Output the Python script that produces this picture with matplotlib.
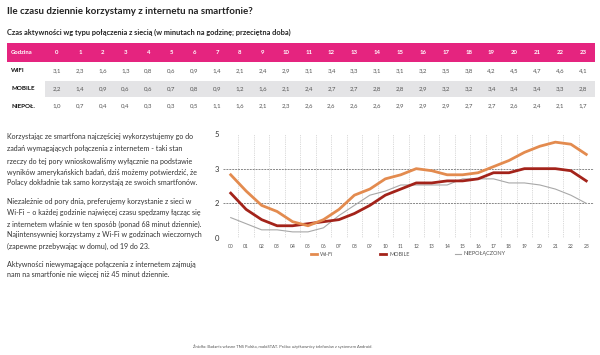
import matplotlib
matplotlib.use("Agg")
import matplotlib.pyplot as plt
from matplotlib.patches import Rectangle
from matplotlib.lines import Line2D

plt.rcParams['font.family'] = ['Lato', 'DejaVu Sans']

hours = list(range(24))
hour_labels = [f"{h:02d}" for h in hours]
wifi = [3.1, 2.3, 1.6, 1.3, 0.8, 0.6, 0.9, 1.4, 2.1, 2.4, 2.9, 3.1, 3.4, 3.3, 3.1, 3.1, 3.2, 3.5, 3.8, 4.2, 4.5, 4.7, 4.6, 4.1]
mobile = [2.2, 1.4, 0.9, 0.6, 0.6, 0.7, 0.8, 0.9, 1.2, 1.6, 2.1, 2.4, 2.7, 2.7, 2.8, 2.8, 2.9, 3.2, 3.2, 3.4, 3.4, 3.4, 3.3, 2.8]
niepol = [1.0, 0.7, 0.4, 0.4, 0.3, 0.3, 0.5, 1.1, 1.6, 2.1, 2.3, 2.6, 2.6, 2.6, 2.6, 2.9, 2.9, 2.9, 2.7, 2.7, 2.6, 2.4, 2.1, 1.7]
row_labels = ["WIFI", "MOBILE", "NIEPOŁ."]
legend_labels = ["Wi-Fi", "MOBILE", "NIEPOŁĄCZONY"]
y_ticks = [0, 1.7, 3.4, 5.1]
y_tick_labels = ["0", "2", "3", "5"]

title = "Ile czasu dziennie korzystamy z internetu na smartfonie?"
subtitle = "Czas aktywności wg typu połączenia z siecią (w minutach na godzinę; przeciętna doba)"
paragraphs = [
    ["Korzystając ze smartfona najczęściej wykorzystujemy go do",
     "zadań wymagających połączenia z internetem - taki stan",
     "rzeczy do tej pory wnioskowaliśmy wyłącznie na podstawie",
     "wyników amerykańskich badań, dziś możemy potwierdzić, że",
     "Polacy dokładnie tak samo korzystają ze swoich smartfonów."],
    ["Niezależnie od pory dnia, preferujemy korzystanie z sieci w",
     "Wi-Fi – o każdej godzinie najwięcej czasu spędzamy łącząc się",
     "z internetem właśnie w ten sposób (ponad 68 minut dziennie).",
     "Najintensywniej korzystamy z Wi-Fi w godzinach wieczornych",
     "(zapewne przebywając w domu), od 19 do 23."],
    ["Aktywności niewymagające połączenia z internetem zajmują",
     "nam na smartfonie nie więcej niż 45 minut dziennie."],
]
footer = "Źródło: Badania własne TNS Polska, mobiSTAT. Próba: użytkownicy telefonów z systemem Android."

W, H = 600, 355
fig = plt.figure(figsize=(6, 3.55), dpi=100)
fig.patch.set_facecolor("white")

def fx(x):
    return x / W

def fy(y):
    return 1 - y / H

PINK = "#E5247F"
C_WIFI = "#E38B4F"
C_MOB = "#A3231A"
C_NIE = "#A8A8A8"

# Title and subtitle
fig.text(fx(7), fy(12), title, fontsize=7.0, fontweight="bold", color="#222222", va="center", ha="left")
fig.text(fx(7), fy(32), subtitle, fontsize=5.3, fontweight="bold", color="#222222", va="center", ha="left")

# Table
fig.patches.append(Rectangle((fx(7), fy(62)), fx(595) - fx(7), fy(43) - fy(62),
                             transform=fig.transFigure, facecolor=PINK, edgecolor="none"))
fig.patches.append(Rectangle((fx(45), fy(97)), fx(595) - fx(45), fy(81) - fy(97),
                             transform=fig.transFigure, facecolor="#E4E4E6", edgecolor="none"))
fig.text(fx(11), fy(53), "Godzina", fontsize=4.2, fontweight="bold", color="white", va="center", ha="left")
col_x0, col_dx = 57, 22.87
for i, h in enumerate(hours):
    fig.text(fx(col_x0 + i * col_dx), fy(53), str(h), fontsize=4.3, fontweight="bold",
             color="white", va="center", ha="center")
row_y = [71, 89, 106]
for r, (lab, vals) in enumerate(zip(row_labels, [wifi, mobile, niepol])):
    fig.text(fx(11), fy(row_y[r]), lab, fontsize=4.5, fontweight="bold", color="#111111",
             va="center", ha="left")
    for i, v in enumerate(vals):
        fig.text(fx(col_x0 + i * col_dx), fy(row_y[r]), f"{v:.1f}".replace(".", ","),
                 fontsize=4.4, color="#555555", va="center", ha="center")

# Paragraphs
para_y = [[137, 149, 161, 172, 183], [201, 213, 224, 235, 246], [264, 275]]
for lines, ys in zip(paragraphs, para_y):
    for line, y in zip(lines, ys):
        fig.text(fx(7), fy(y), line, fontsize=5.15, color="#333333", va="center", ha="left")

# Chart
ax = fig.add_axes([fx(223), fy(238), fx(594) - fx(223), fy(134) - fy(238)])
ax.set_xlim(-0.5, 23.5)
ax.set_ylim(0, 5.1)
for s in ax.spines.values():
    s.set_visible(False)
for xv in [h + 0.5 for h in hours[:-1]]:
    ax.axvline(xv, color="#CCCCCC", lw=0.6, ls=(0, (1, 1.2)), zorder=1)
for yv in [1.7, 3.4]:
    ax.axhline(yv, color="#888888", lw=0.7, ls=(0, (2, 1)), zorder=1)
ax.plot(hours, niepol, color=C_NIE, lw=0.8, zorder=2, label=legend_labels[2])
ax.plot(hours, mobile, color=C_MOB, lw=2.0, zorder=3, solid_joinstyle="round", label=legend_labels[1])
ax.plot(hours, wifi, color=C_WIFI, lw=2.0, zorder=4, solid_joinstyle="round", label=legend_labels[0])
ax.set_xticks(hours)
ax.set_xticklabels(hour_labels, fontsize=3.6, color="#555555")
ax.set_yticks(y_ticks)
ax.set_yticklabels(y_tick_labels, fontsize=5.5, color="#333333")
ax.tick_params(axis="both", length=0)
ax.tick_params(axis="x", pad=4)
ax.tick_params(axis="y", pad=3)

# Legend
leg_items = [(314, C_WIFI, 2.0, legend_labels[0]), (383, C_MOB, 2.0, legend_labels[1]),
             (458, C_NIE, 0.8, legend_labels[2])]
for x, c, lw, lab in leg_items:
    fig.lines.append(Line2D([fx(x - 3), fx(x + 3)], [fy(254), fy(254)], transform=fig.transFigure,
                            color=c, lw=lw))
    fig.text(fx(x + 6), fy(254), lab, fontsize=4.0, color="#555555", va="center", ha="left")

# Footer
fig.text(fx(283), fy(347), footer, fontsize=3.0, color="#555555", va="center", ha="center")

fig.savefig("out.png", dpi=100, facecolor="white")
